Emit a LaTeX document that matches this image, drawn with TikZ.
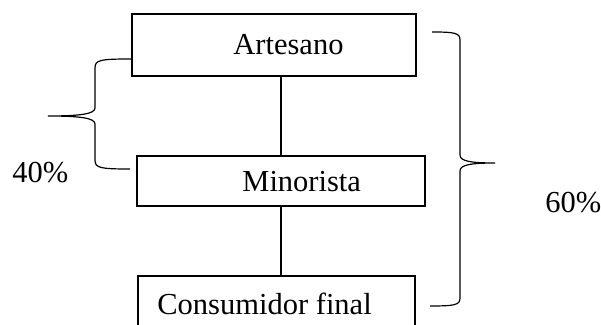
\documentclass[tikz,border=0pt]{standalone}
\usepackage{fontspec}
\setmainfont{Liberation Serif}
\begin{document}
\begin{tikzpicture}[x=0.5pt,y=-0.5pt,
  box/.style={draw,line width=0.9pt,inner sep=0pt,rectangle},
  lbl/.style={anchor=base west,inner sep=0pt,font=\fontsize{15.25}{18}\selectfont},
  conn/.style={line width=0.6pt},
  brace/.style={line width=0.6pt}]
\clip (0,0) rectangle (601,325);
\node[box,minimum width=142pt,minimum height=31pt] (art) at (274,45) {};
\node[box,minimum width=144pt,minimum height=25pt] (min) at (281,181) {};
\node[box,minimum width=138.5pt,minimum height=32pt] (con) at (276.5,308) {};
\node[lbl] (tart) at (233,55) {Artesano};
\node[lbl] (tmin) at (242,192) {Minorista};
\node[lbl] (tcon) at (157,315) {Consumidor final};
\node[lbl] (p40) at (12,183) {40\%};
\node[lbl] (p60) at (545,213) {60\%};
\draw[conn] (min.north |- art.south) -- (min.north);
\draw[conn] (min.south) -- (min.south |- con.north);
% left brace
\draw[brace] (art.west |- 0,59) .. controls (100,59) and (95,60) .. (95,68) -- (95,108)
  .. controls (95,114) and (80,116) .. (48,116)
  .. controls (80,116) and (95,118) .. (95,124) -- (95,160)
  .. controls (95,168) and (100,169) .. (130,169);
% right brace
\draw[brace] (432,32) .. controls (455,32) and (460,33) .. (460,40) -- (460,155)
  .. controls (460,161) and (470,163) .. (495,163)
  .. controls (470,163) and (460,165) .. (460,171) -- (460,298)
  .. controls (460,305) and (455,306) .. (430,306);
\end{tikzpicture}
\end{document}
